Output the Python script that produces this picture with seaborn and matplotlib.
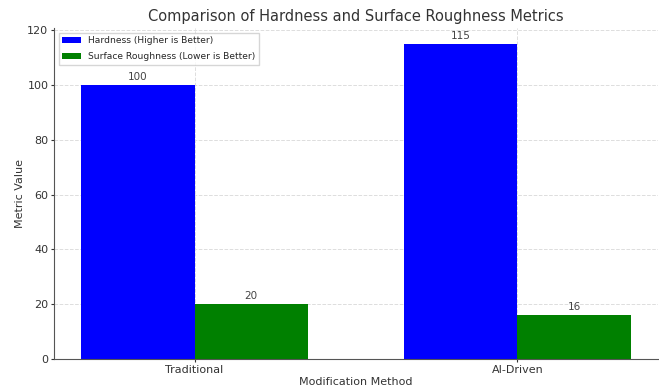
import pandas as pd
import matplotlib
matplotlib.use('Agg')
import matplotlib.pyplot as plt
import seaborn as sns

methods = ['Traditional', 'AI-Driven']
hardness = [100, 115]
roughness = [20, 16]
series_labels = ['Hardness (Higher is Better)', 'Surface Roughness (Lower is Better)']

df = pd.DataFrame({
    'method': methods * 2,
    'value': hardness + roughness,
    'metric': [series_labels[0]] * 2 + [series_labels[1]] * 2,
})

sns.set_style('white')
plt.rcParams['font.family'] = ['DejaVu Sans']

fig, ax = plt.subplots(figsize=(6.59, 3.89), dpi=100)
fig.subplots_adjust(left=54 / 659, right=658 / 659, bottom=1 - 359 / 389, top=1 - 28 / 389)

sns.barplot(data=df, x='method', y='value', hue='metric', order=methods,
            hue_order=series_labels, palette=['blue', 'green'], saturation=1,
            width=0.7, ax=ax, errorbar=None, linewidth=0)

for cont in ax.containers:
    ax.bar_label(cont, fmt='%d', fontsize=7.5, color='#444444', padding=2)

ax.set_xlim(-0.435, 1.435)
ax.set_ylim(0, 120.75)
ax.set_yticks([0, 20, 40, 60, 80, 100, 120])
ax.grid(True, linestyle='--', color='#dddddd', linewidth=0.7)
ax.set_axisbelow(True)
for s in ['top', 'right']:
    ax.spines[s].set_visible(False)
for s in ['left', 'bottom']:
    ax.spines[s].set_color('#555555')
ax.tick_params(axis='both', labelsize=8, colors='#333333', length=2.5, pad=1.5,
               direction='out', left=True, bottom=True)
ax.set_title('Comparison of Hardness and Surface Roughness Metrics', fontsize=10.5,
             color='#333333', pad=5)
ax.set_xlabel('Modification Method', fontsize=8, color='#333333', labelpad=2)
ax.set_ylabel('Metric Value', fontsize=8, color='#333333', labelpad=2)
ax.legend(loc='upper left', fontsize=6.6, title=None, frameon=True, fancybox=False,
          framealpha=0.8, edgecolor='#cccccc', labelspacing=0.75)

plt.savefig('out.png', dpi=100)
